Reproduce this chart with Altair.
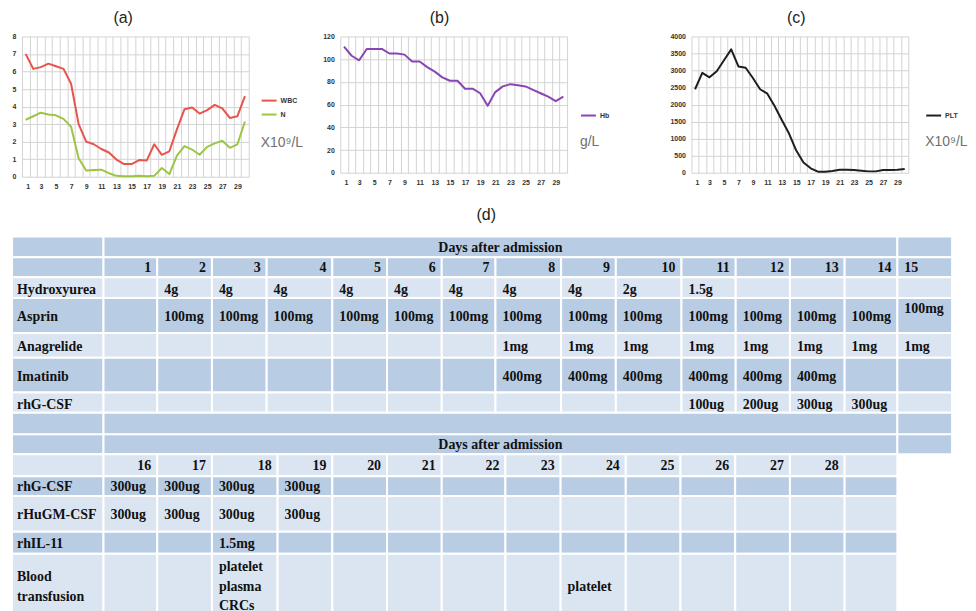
import altair as alt
import pandas as pd

# ---------------- data ----------------
days = list(range(1, 31))
wbc = [7.0, 6.15, 6.25, 6.45, 6.3, 6.15, 5.3, 3.0, 2.0, 1.85, 1.58, 1.38, 0.98, 0.72, 0.72,
       0.95, 0.92, 1.85, 1.25, 1.45, 2.7, 3.85, 3.95, 3.6, 3.8, 4.1, 3.9, 3.35, 3.45, 4.6]
neut = [3.25, 3.45, 3.65, 3.55, 3.5, 3.3, 2.85, 1.05, 0.35, 0.38, 0.4, 0.2, 0.05, 0.03, 0.03,
        0.05, 0.03, 0.05, 0.5, 0.15, 1.2, 1.75, 1.55, 1.25, 1.7, 1.9, 2.05, 1.65, 1.85, 3.15]
hb = [111, 103, 99, 109, 109, 109, 105, 105, 104, 98, 98, 93, 89, 84, 81,
      81, 74, 74, 70, 59, 71, 76, 78, 77, 76, 73, 70, 67, 63, 67]
plt_vals = [2450, 2930, 2800, 2980, 3300, 3620, 3120, 3080, 2780, 2450, 2320, 1960, 1550, 1150, 650,
            300, 130, 30, 30, 50, 90, 90, 80, 60, 40, 40, 80, 80, 90, 110]

upper_days = [str(d) for d in range(1, 16)]
lower_days = [str(d) for d in range(16, 29)] + [""]
header_text = "Days after admission"

upper_rows = [
    ("Hydroxyurea", ["", "4g", "4g", "4g", "4g", "4g", "4g", "4g", "4g", "2g", "1.5g", "", "", "", ""]),
    ("Asprin", ["", "100mg", "100mg", "100mg", "100mg", "100mg", "100mg", "100mg", "100mg", "100mg",
                "100mg", "100mg", "100mg", "100mg", "100mg"]),
    ("Anagrelide", ["", "", "", "", "", "", "", "1mg", "1mg", "1mg", "1mg", "1mg", "1mg", "1mg", "1mg"]),
    ("Imatinib", ["", "", "", "", "", "", "", "400mg", "400mg", "400mg", "400mg", "400mg", "400mg", "", ""]),
    ("rhG-CSF", ["", "", "", "", "", "", "", "", "", "", "100ug", "200ug", "300ug", "300ug", ""]),
]
lower_rows = [
    ("rhG-CSF", ["300ug", "300ug", "300ug", "300ug", "", "", "", "", "", "", "", "", "", ""]),
    ("rHuGM-CSF", ["300ug", "300ug", "300ug", "300ug", "", "", "", "", "", "", "", "", "", ""]),
    ("rhIL-11", ["", "", "1.5mg", "", "", "", "", "", "", "", "", "", "", ""]),
    ("Blood\ntransfusion", ["", "", "platelet\nplasma\nCRCs", "", "", "", "", "", "platelet", "", "", "", "", ""]),
]

# ---------------- layout (pixel sizes of table grid) ----------------
ROW_H = [21, 20, 21, 35, 25, 35, 20, 22, 20, 22, 20, 36, 22, 64]
UP_W = [92, 54, 55, 55, 66, 55, 55, 54, 66, 55, 66, 54.5, 54.5, 55, 53, 55]
LO_W = [92, 54, 55, 66, 55, 55, 55, 64, 55.5, 65.5, 55, 55, 55, 55, 53]
ROW_SHADE = ["dark", "dark", "light", "dark", "light", "dark", "light",
             "dark", "dark", "light", "dark", "light", "dark", "light"]
LINE_H = 20

def edges(ws):
    e = [0]
    for w in ws:
        e.append(e[-1] + w)
    return e

YE = edges(ROW_H)
UE = edges(UP_W)
LE = edges(LO_W)
TOTAL_W = UE[-1]
TOTAL_H = YE[-1]

cells = []
texts = []

def add_cell(r, x0, x1):
    cells.append({"x0": x0, "x1": x1, "y0": YE[r], "y1": YE[r + 1], "shade": ROW_SHADE[r]})

def add_text(r, x0, x1, txt, align, dy=0):
    if txt == "":
        return
    n = txt.count("\n")
    texts.append({"x0": x0, "x1": x1, "xc": (x0 + x1) / 2,
                  "ty": (YE[r] + YE[r + 1]) / 2 + 1 + dy - n * LINE_H / 2,
                  "text": txt, "align": align})

for r, txt in [(0, header_text), (7, ""), (8, header_text)]:
    add_cell(r, UE[0], UE[1])
    add_cell(r, UE[1], UE[15])
    add_cell(r, UE[15], UE[16])
    add_text(r, UE[1], UE[15], txt, "center")

r = 1
add_cell(r, UE[0], UE[1])
for i, d in enumerate(upper_days):
    add_cell(r, UE[i + 1], UE[i + 2])
    add_text(r, UE[i + 1], UE[i + 2], d, "left" if i == 14 else "right")

for k, (name, vals) in enumerate(upper_rows):
    r = 2 + k
    add_cell(r, UE[0], UE[1])
    add_text(r, UE[0], UE[1], name, "label", 1)
    for i, v in enumerate(vals):
        add_cell(r, UE[i + 1], UE[i + 2])
        dy = -8 if (name == "Asprin" and i == 14) else 1
        add_text(r, UE[i + 1], UE[i + 2], v, "left", dy)

r = 9
add_cell(r, LE[0], LE[1])
for i, d in enumerate(lower_days):
    add_cell(r, LE[i + 1], LE[i + 2])
    add_text(r, LE[i + 1], LE[i + 2], d, "right")

for k, (name, vals) in enumerate(lower_rows):
    r = 10 + k
    add_cell(r, LE[0], LE[1])
    add_text(r, LE[0], LE[1], name, "label")
    for i, v in enumerate(vals):
        add_cell(r, LE[i + 1], LE[i + 2])
        add_text(r, LE[i + 1], LE[i + 2], v, "left")

cells_df = pd.DataFrame(cells)
texts_df = pd.DataFrame(texts)

# ---------------- line charts ----------------
GRID = "#d3d3d3"

def line_chart(series, ymax, ystep, w, pw, h, title, tdx, unit, lx, ly, tpad):
    rows = []
    for name, color, vals in series:
        for d, v in zip(days, vals):
            rows.append({"day": d, "value": v, "series": name})
    df = pd.DataFrame(rows)
    xs = [i + 0.5 for i in range(31)]
    return alt.Chart(df).mark_line(strokeWidth=2, strokeJoin="round").encode(
        x=alt.X("day:Q",
                scale=alt.Scale(domain=[0.5, 30.5], range=[0, pw], nice=False, zero=False),
                axis=alt.Axis(values=xs, title=None, ticks=False, domain=False,
                              grid=True, gridColor=GRID,
                              labelExpr="((datum.value + 0.5) % 2 == 1 && datum.value < 30) ? format(datum.value + 0.5, 'd') : ''",
                              labelOffset=pw / 60.0, labelOverlap=False, labelFontSize=7,
                              labelFontWeight="bold", labelFont="Liberation Sans",
                              labelColor="#333333", labelPadding=6)),
        y=alt.Y("value:Q",
                scale=alt.Scale(domain=[0, ymax], nice=False, zero=True),
                axis=alt.Axis(values=list(range(0, ymax + 1, ystep)), title=None, ticks=False,
                              domain=False, grid=True, gridColor=GRID, format="d", labelFontSize=7,
                              labelFontWeight="bold", labelFont="Liberation Sans",
                              labelColor="#333333", labelPadding=6, labelOverlap=False)),
        color=alt.Color("series:N",
                        scale=alt.Scale(domain=[s[0] for s in series], range=[s[1] for s in series]),
                        legend=alt.Legend(orient="none", legendX=lx, legendY=ly, title=unit,
                                          titleOrient="bottom", titleFontSize=14,
                                          titleFont="Liberation Sans", titleFontWeight="normal",
                                          titleColor="#707070", titlePadding=tpad,
                                          titleAnchor="start", titleAlign="left",
                                          symbolType="stroke", symbolStrokeWidth=2, symbolSize=225,
                                          labelFontSize=7, labelFontWeight="bold",
                                          labelFont="Liberation Sans", labelColor="#333333",
                                          labelOffset=3, rowPadding=1)),
    ).properties(
        width=w, height=h,
        title=alt.TitleParams(title, fontSize=16, font="Liberation Sans", fontWeight="normal",
                              color="#222222", dx=tdx, offset=7, anchor="start", frame="group"),
    )

ca = line_chart([("WBC", "#e8534b", wbc), ("N", "#9dc545", neut)], 8, 1, 228, 228, 141,
                "(a)", 92, "X10⁹/L", 240, 56, 17)
cb = line_chart([("Hb", "#8a45b5", hb)], 120, 20, 261, 228, 137, "(b)", 90, "g/L", 241, 71, 15)
cc = line_chart([("PLT", "#1e1e1e", plt_vals)], 4000, 500, 218, 218, 137, "(c)", 96, "X10⁹/L", 235, 71, 15)

# ---------------- table ----------------
TW = 228
xs_scale = alt.Scale(domain=[0, TOTAL_W], range=[-10, TOTAL_W - 10], nice=False, zero=False)
ys_scale = alt.Scale(domain=[0, TOTAL_H], range=[0, TOTAL_H], nice=False, zero=False)

tbase = alt.Chart(cells_df)
rects = tbase.mark_rect(stroke="white", strokeWidth=2).encode(
    x=alt.X("x0:Q", scale=xs_scale, axis=None),
    x2="x1:Q",
    y=alt.Y("y0:Q", scale=ys_scale, axis=None),
    y2="y1:Q",
    color=alt.Color("shade:N", scale=alt.Scale(domain=["dark", "light"], range=["#b8cce4", "#dbe5f1"]),
                    legend=None),
)

tfont = dict(font="Liberation Serif", fontWeight="bold", fontSize=14, color="#111111",
             baseline="middle", lineBreak="\n", lineHeight=LINE_H)
tt = alt.Chart(texts_df)
t_label = tt.transform_filter(alt.datum.align == "label").mark_text(align="left", dx=5, **tfont).encode(
    x=alt.X("x0:Q", scale=xs_scale), y=alt.Y("ty:Q", scale=ys_scale), text="text:N")
t_left = tt.transform_filter(alt.datum.align == "left").mark_text(align="left", dx=7, **tfont).encode(
    x=alt.X("x0:Q", scale=xs_scale), y=alt.Y("ty:Q", scale=ys_scale), text="text:N")
t_right = tt.transform_filter(alt.datum.align == "right").mark_text(align="right", dx=-6, **tfont).encode(
    x=alt.X("x1:Q", scale=xs_scale), y=alt.Y("ty:Q", scale=ys_scale), text="text:N")
t_center = tt.transform_filter(alt.datum.align == "center").mark_text(align="center", **tfont).encode(
    x=alt.X("xc:Q", scale=xs_scale), y=alt.Y("ty:Q", scale=ys_scale), text="text:N")

table = alt.layer(rects, t_label, t_left, t_right, t_center).properties(
    width=TW, height=TOTAL_H,
    title=alt.TitleParams("(d)", fontSize=16, font="Liberation Sans", fontWeight="normal",
                          color="#222222", offset=12, anchor="start", dx=457, frame="group"),
)

chart = alt.concat(ca, cb, cc, table, columns=3, spacing={"row": 60, "column": 92},
                   bounds="flush").resolve_scale(
    color="independent"
).properties(
    padding={"left": 3, "top": 0, "right": 0, "bottom": 0},
    background="white",
).configure_view(strokeWidth=0)

chart.save("out.html", embed_options={"renderer": "svg", "actions": False})
